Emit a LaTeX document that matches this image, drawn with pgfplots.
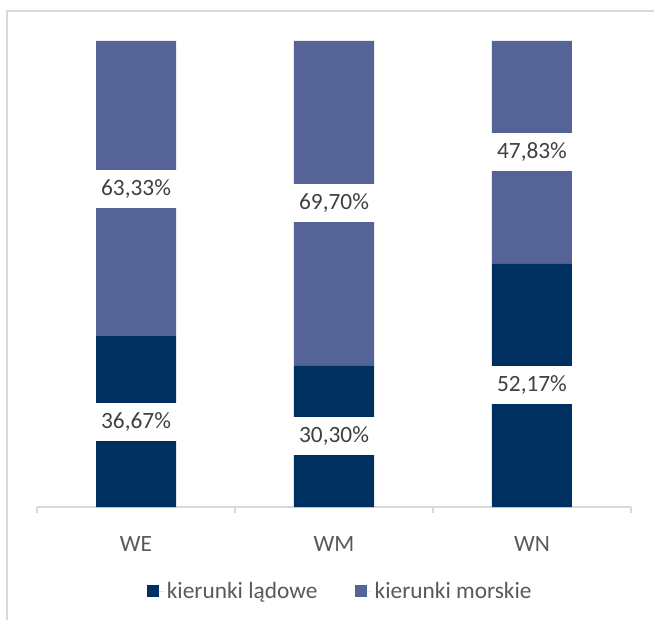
\documentclass[border=0pt]{standalone}
\usepackage{fontspec}
\setmainfont{Carlito}
\usepackage{pgfplots}
\usepackage{pgfplotstable}
\pgfplotsset{compat=1.18}
\definecolor{darkbar}{HTML}{003060}
\definecolor{lightbar}{HTML}{566396}
\definecolor{txtgray}{HTML}{595959}
\definecolor{lblgray}{HTML}{404040}
\definecolor{linegray}{HTML}{D9D9D9}
\pgfplotstableread{
x lad mor
0 36.67 63.33
1 30.30 69.70
2 52.17 47.83
}\datatable
\begin{document}
\begin{tikzpicture}
\useasboundingbox (0pt,0pt) rectangle (490.5pt,-465pt);
\fill[white] (0pt,0pt) rectangle (490.5pt,-465pt);
\draw[linegray, line width=1.1pt] (5.25pt,-466pt) -- (5.25pt,-8.25pt) -- (492pt,-8.25pt);
\begin{axis}[
  at={(27.75pt,-380.25pt)}, anchor=south west,
  scale only axis, width=445.5pt, height=349.5pt,
  ybar stacked, bar width=60pt,
  xmin=-0.5, xmax=2.5, ymin=0, ymax=100,
  axis y line=none,
  axis x line*=bottom,
  x axis line style={draw=linegray, line width=1.1pt},
  xtick={0,1,2}, xticklabels={WE,WM,WN},
  major tick length=0pt,
  extra x ticks={-0.5,0.5,1.5,2.5},
  extra x tick labels={},
  extra x tick style={major tick length=4.5pt, tick align=outside, tick style={draw=linegray, line width=1.1pt}},
  xticklabel style={font=\fontsize{17.5}{21}\selectfont, text=txtgray, anchor=base, yshift=-33.5pt},
  legend style={at={(0.511,-0.181)}, anchor=center, draw=none, fill=none,
    font=\fontsize{17.5}{21}\selectfont, text=txtgray,
    /tikz/every even column/.append style={column sep=26pt}},
  legend columns=2,
  legend cell align=left,
  nodes near coords={\pgfmathprintnumber[fixed,fixed zerofill,precision=2,use comma,assume math mode=true]{\pgfplotspointmeta}\%},
  every node near coord/.append style={font=\fontsize{17.5}{21}\selectfont, text=lblgray,
    fill=white, anchor=center, minimum width=61.5pt, minimum height=28.5pt, inner sep=0pt},
]
\addplot[fill=darkbar, draw=none,
  legend image code/.code={\path (0pt,0pt) -- (13pt,0pt); \fill[darkbar] (0pt,-4.5pt) rectangle (9pt,4.5pt);},
  point meta=explicit]
  table[x=x, y=lad, meta=lad] {\datatable};
\addlegendentry{kierunki lądowe}
\addplot[fill=lightbar, draw=none,
  legend image code/.code={\path (0pt,0pt) -- (13pt,0pt); \fill[lightbar] (0pt,-4.5pt) rectangle (9pt,4.5pt);},
  point meta=explicit]
  table[x=x, y=mor, meta=mor] {\datatable};
\addlegendentry{kierunki morskie}
\end{axis}
\end{tikzpicture}
\end{document}
